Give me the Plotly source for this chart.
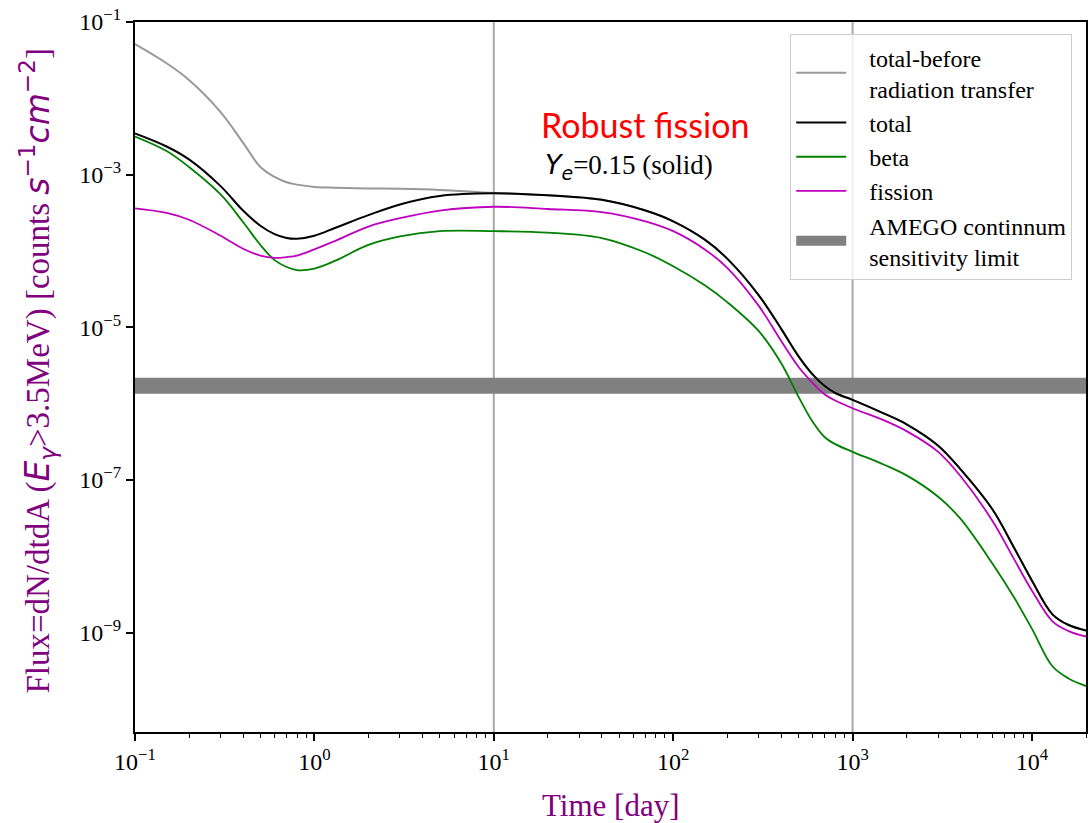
import plotly.graph_objects as go

# ---- data ----
time_days = [0.1, 0.15, 0.2, 0.3, 0.4, 0.5, 0.6, 0.7, 0.8, 1.0, 1.3, 2, 3, 5, 10,
             20, 40, 70, 100, 150, 200, 300, 400, 500, 600, 700, 800, 1000, 1500,
             2000, 3000, 4000, 6000, 8000, 10000, 13000, 16000, 20000]

total = [3.47e-3, 2.34e-3, 1.585e-3, 7.08e-4, 3.39e-4, 2.14e-4, 1.66e-4, 1.48e-4,
         1.445e-4, 1.585e-4, 2.00e-4, 2.95e-4, 4.07e-4, 5.25e-4, 5.69e-4, 5.37e-4,
         4.68e-4, 3.39e-4, 2.45e-4, 1.41e-4, 7.94e-5, 2.63e-5, 9.55e-6, 4.17e-6,
         2.40e-6, 1.70e-6, 1.38e-6, 1.12e-6, 7.41e-7, 5.37e-7, 2.82e-7, 1.38e-7,
         4.17e-8, 1.26e-8, 4.79e-9, 1.74e-9, 1.26e-9, 1.07e-9]

beta = [3.16e-3, 2.04e-3, 1.26e-3, 5.50e-4, 2.40e-4, 1.20e-4, 7.59e-5, 6.17e-5,
        5.62e-5, 5.89e-5, 7.41e-5, 1.20e-4, 1.55e-4, 1.82e-4, 1.82e-4, 1.74e-4,
        1.48e-4, 9.55e-5, 6.31e-5, 3.55e-5, 2.14e-5, 8.91e-6, 3.39e-6, 1.23e-6,
        5.75e-7, 3.63e-7, 2.95e-7, 2.34e-7, 1.585e-7, 1.15e-7, 6.03e-8, 3.09e-8,
        8.13e-9, 2.82e-9, 1.12e-9, 3.63e-10, 2.51e-10, 2.00e-10]

fission = [3.63e-4, 3.16e-4, 2.57e-4, 1.585e-4, 1.07e-4, 8.71e-5, 8.13e-5, 8.32e-5,
           8.71e-5, 1.05e-4, 1.35e-4, 2.09e-4, 2.69e-4, 3.39e-4, 3.80e-4, 3.55e-4,
           3.24e-4, 2.45e-4, 1.82e-4, 1.05e-4, 6.03e-5, 1.91e-5, 6.61e-6, 3.02e-6,
           1.86e-6, 1.32e-6, 1.10e-6, 8.71e-7, 6.03e-7, 4.37e-7, 2.34e-7, 1.12e-7,
           2.95e-8, 8.91e-9, 3.55e-9, 1.41e-9, 1.05e-9, 8.91e-10]

# total before radiation transfer: differs from total only up to ~10 days
before_early = [5.13e-2, 2.88e-2, 1.74e-2, 6.61e-3, 2.63e-3, 1.26e-3, 9.33e-4,
                7.94e-4, 7.41e-4, 6.92e-4, 6.76e-4, 6.61e-4, 6.53e-4, 6.31e-4, 5.75e-4]
total_before = before_early + total[len(before_early):]

amego_low, amego_high = 1.35e-6, 2.2e-6
amego_level = (amego_low * amego_high) ** 0.5

vlines_days = [10, 1000]

x_min, x_max = 0.1, 2e4
y_min, y_max = 5e-11, 1e-1

x_tickvals = [1e-1, 1e0, 1e1, 1e2, 1e3, 1e4]
x_ticktext = ["10<sup>−1</sup>", "10<sup>0</sup>", "10<sup>1</sup>",
              "10<sup>2</sup>", "10<sup>3</sup>", "10<sup>4</sup>"]
y_tickvals = [1e-1, 1e-3, 1e-5, 1e-7, 1e-9]
y_ticktext = ["10<sup>−1</sup>", "10<sup>−3</sup>", "10<sup>−5</sup>",
              "10<sup>−7</sup>", "10<sup>−9</sup>"]
x_minor = [m * 10.0 ** e for e in range(-1, 5) for m in range(2, 10) if m * 10.0 ** e <= x_max]

legend_names = ["total-before<br>radiation transfer", "total", "beta", "fission",
                "AMEGO continnum<br>sensitivity limit"]

SERIF = "Liberation Serif"
MATH = 'font-family:DejaVu Sans;font-style:italic'
PURPLE = "#800080"
PAD = "\u00a0\u00a0\u00a0"


def padded(name):
    return "<br>".join(PAD + part for part in name.split("<br>"))


fig = go.Figure()

# vertical reference lines
for xv in vlines_days:
    fig.add_trace(go.Scatter(x=[xv, xv], y=[y_min, y_max], mode="lines",
                             line=dict(color="#aaaaaa", width=2),
                             showlegend=False, hoverinfo="skip"))

# AMEGO band (patch drawn under the curves, listed last in legend)
fig.add_trace(go.Scatter(x=[x_min, x_max], y=[amego_level, amego_level], mode="lines",
                         line=dict(color="#808080", width=16),
                         name=padded(legend_names[4]), legendrank=5))

fig.add_trace(go.Scatter(x=time_days, y=total_before, mode="lines",
                         line=dict(color="#999999", width=2, shape="spline"),
                         name=padded(legend_names[0]), legendrank=1))
fig.add_trace(go.Scatter(x=time_days, y=total, mode="lines",
                         line=dict(color="black", width=2, shape="spline"),
                         name=padded(legend_names[1]), legendrank=2))
fig.add_trace(go.Scatter(x=time_days, y=beta, mode="lines",
                         line=dict(color="#008000", width=1.8, shape="spline"),
                         name=padded(legend_names[2]), legendrank=3))
fig.add_trace(go.Scatter(x=time_days, y=fission, mode="lines",
                         line=dict(color="#bf00bf", width=1.8, shape="spline"),
                         name=padded(legend_names[3]), legendrank=4))

axis_common = dict(showline=True, mirror=True, linecolor="black", linewidth=2,
                   ticks="outside", ticklen=7, tickwidth=1.5, tickcolor="black",
                   showgrid=False, zeroline=False, ticklabeloverflow="allow",
                   tickfont=dict(family=SERIF, size=24, color="black"))

fig.update_xaxes(type="log", range=[-1, 4.30103], tickmode="array",
                 tickvals=x_tickvals, ticktext=x_ticktext,
                 minor=dict(tickmode="array", tickvals=x_minor, ticks="outside",
                            ticklen=4, tickwidth=1.2, tickcolor="black", showgrid=False),
                 **axis_common)
fig.update_yaxes(type="log", range=[-10.30103, -1], tickmode="array",
                 tickvals=y_tickvals, ticktext=y_ticktext, **axis_common)

ylabel = ('Flux=dN/dtdA (<span style="%s">E</span><sub><span style="%s">γ</span></sub>'
          '&gt;3.5MeV) [counts <span style="%s">s</span><sup><span style="font-family:DejaVu Sans">−1</span></sup>'
          '<span style="%s">cm</span><sup><span style="font-family:DejaVu Sans">−2</span></sup>]') % (MATH, MATH, MATH, MATH)

fig.add_annotation(xref="paper", yref="paper", x=-0.102, y=0.509, text=ylabel,
                   textangle=-90, showarrow=False, xanchor="center", yanchor="middle",
                   font=dict(family=SERIF, size=33, color=PURPLE))
fig.add_annotation(xref="paper", yref="paper", x=0.5, y=-0.104, text="Time [day]",
                   showarrow=False, xanchor="center", yanchor="middle",
                   font=dict(family=SERIF, size=31, color=PURPLE))
fig.add_annotation(xref="paper", yref="paper", x=0.536, y=0.855, text="Robust fission",
                   showarrow=False, xanchor="center", yanchor="middle",
                   font=dict(family="Lato", size=34, color="red"))
fig.add_annotation(xref="paper", yref="paper", x=0.429, y=0.797,
                   text='<span style="%s">Y</span><sub><span style="%s">e</span></sub>=0.15 (solid)' % (MATH, MATH),
                   showarrow=False, xanchor="left", yanchor="middle",
                   font=dict(family=SERIF, size=27, color="black"))

fig.update_layout(
    width=1089, height=823,
    margin=dict(l=135, r=1, t=22, b=91),
    paper_bgcolor="white", plot_bgcolor="white",
    legend=dict(x=0.689, y=0.983, xanchor="left", yanchor="top",
                bgcolor="rgba(255,255,255,0.8)", bordercolor="#cccccc", borderwidth=1,
                font=dict(family=SERIF, size=24, color="black"),
                tracegroupgap=0, itemwidth=50),
)

# remove the default page margin so the figure sits at the window's corner
fig.write_html("out.html", config={"displayModeBar": False},
               post_script="document.body.style.margin='0';document.body.style.overflow='hidden';")
